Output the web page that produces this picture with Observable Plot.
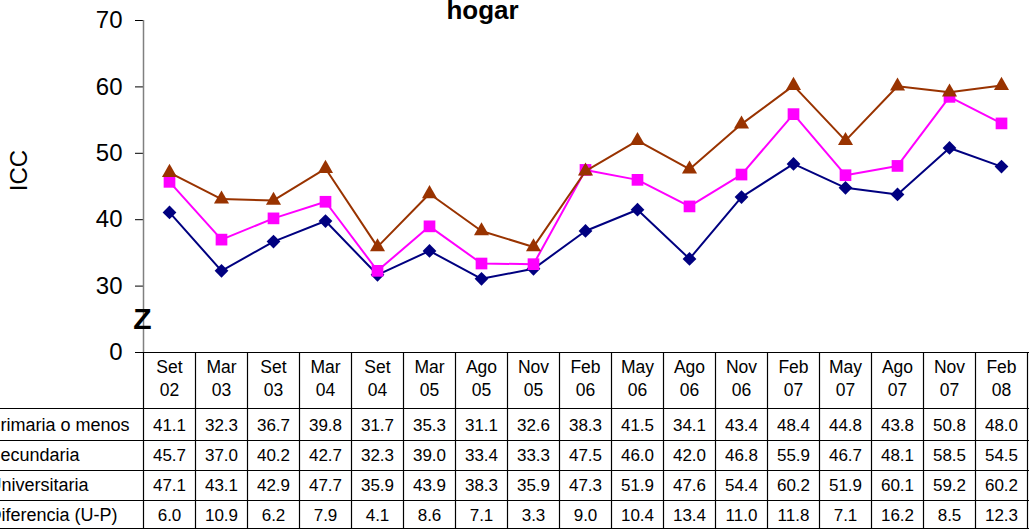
<!DOCTYPE html>
<html>
<head>
<meta charset="utf-8">
<script src="https://cdn.jsdelivr.net/npm/d3@7"></script>
<script src="https://cdn.jsdelivr.net/npm/@observablehq/plot@0.6"></script>
<style>
  html, body { margin: 0; padding: 0; background: #fff; overflow: hidden; }
</style>
</head>
<body>
<div id="chart"></div>
<script>
const months = ["Set","Mar","Set","Mar","Set","Mar","Ago","Nov","Feb","May","Ago","Nov","Feb","May","Ago","Nov","Feb"];
const years  = ["02","03","03","04","04","05","05","05","06","06","06","06","07","07","07","07","08"];
const categories = months.map((m, i) => m + " " + years[i]);

const primaria      = [41.1,32.3,36.7,39.8,31.7,35.3,31.1,32.6,38.3,41.5,34.1,43.4,48.4,44.8,43.8,50.8,48.0];
const secundaria    = [45.7,37.0,40.2,42.7,32.3,39.0,33.4,33.3,47.5,46.0,42.0,46.8,55.9,46.7,48.1,58.5,54.5];
const universitaria = [47.1,43.1,42.9,47.7,35.9,43.9,38.3,35.9,47.3,51.9,47.6,54.4,60.2,51.9,60.1,59.2,60.2];
const diferencia    = [6.0,10.9,6.2,7.9,4.1,8.6,7.1,3.3,9.0,10.4,13.4,11.0,11.8,7.1,16.2,8.5,12.3];

const rowLabels = ["Primaria o menos","Secundaria","Universitaria","Diferencia (U-P)"];
const yTicks = [20,30,40,50,60,70];
const yTickLabels = ["0","30","40","50","60","70"];

const seriesList = [
  {name: rowLabels[0], values: primaria,      color: "#000080", symbol: "diamond2", r: 6.2},
  {name: rowLabels[1], values: secundaria,    color: "#FF00FF", symbol: "square",   r: 6.6},
  {name: rowLabels[2], values: universitaria, color: "#993300", symbol: "triangle", r: 5.6}
];
const tableRows = [primaria, secundaria, universitaria, diferencia];
const rowDy = [73, 103, 133, 163];

const toData = vals => vals.map((v, i) => ({cat: categories[i], v}));

const marks = [];
// axis line
marks.push(Plot.ruleX([categories[0]], {dx: -26, stroke: "#808080", strokeWidth: 1.5}));
// series
for (const s of seriesList) {
  const d = toData(s.values);
  marks.push(Plot.line(d, {x: "cat", y: "v", stroke: s.color, strokeWidth: 2}));
  marks.push(Plot.dot(d, {x: "cat", y: "v", fill: s.color, symbol: s.symbol, r: s.r, stroke: "none"}));
}
// Z break mark
marks.push(Plot.text(["Z"], {frameAnchor: "bottom-left", dy: -33, dx: -1, fontSize: 30, fontWeight: "bold", textAnchor: "middle", lineAnchor: "middle", fill: "#000"}));
// ICC label
marks.push(Plot.text(["ICC"], {frameAnchor: "left", dx: -124, dy: -16, rotate: -90, fontSize: 24, textAnchor: "middle", lineAnchor: "middle", fill: "#000"}));
// title
marks.push(Plot.text(["hogar"], {frameAnchor: "top", dx: -103, dy: -10, fontSize: 26, fontWeight: "bold", textAnchor: "middle", lineAnchor: "middle", fill: "#000"}));

// table grid: vertical lines
marks.push(Plot.ruleX(categories, {x: d => d, dx: -26, insetTop: 332, insetBottom: -177, stroke: "#000", strokeWidth: 1.2}));
marks.push(Plot.ruleX([categories[categories.length - 1]], {dx: 26, insetTop: 332, insetBottom: -177, stroke: "#000", strokeWidth: 1.2}));
// horizontal lines
marks.push(Plot.ruleY([20], {stroke: "#000", strokeWidth: 1.2, insetRight: -2}));
for (const k of [56, 88, 118, 148, 176]) {
  marks.push(Plot.ruleY([20], {dy: k, insetLeft: -143, insetRight: -2, stroke: "#000", strokeWidth: 1.2}));
}
// header texts
marks.push(Plot.text(categories, {x: d => d, text: (d, i) => months[i], frameAnchor: "bottom", dy: 15, fontSize: 17.5, lineAnchor: "middle", fill: "#000"}));
marks.push(Plot.text(categories, {x: d => d, text: (d, i) => years[i], frameAnchor: "bottom", dy: 38, fontSize: 17.5, lineAnchor: "middle", fill: "#000"}));
// row labels
rowLabels.forEach((lab, j) => {
  marks.push(Plot.text([lab], {frameAnchor: "bottom-left", dx: -155, dy: rowDy[j], textAnchor: "start", lineAnchor: "middle", fontSize: 18, fill: "#000"}));
  marks.push(Plot.text(categories, {x: d => d, text: (d, i) => tableRows[j][i].toFixed(1), frameAnchor: "bottom", dy: rowDy[j], fontSize: 17, lineAnchor: "middle", fill: "#000"}));
});

const chart = Plot.plot({
  width: 1029,
  height: 529,
  marginLeft: 143,
  marginRight: 2,
  marginTop: 20,
  marginBottom: 177,
  style: {fontFamily: "'Liberation Sans', Arial, sans-serif", fontSize: "24px", color: "#000", background: "#fff", overflow: "visible"},
  x: {type: "point", domain: categories, padding: 0.5, axis: null},
  y: {domain: [20, 70], ticks: yTicks, tickFormat: d => yTickLabels[yTicks.indexOf(d)], tickSize: 8, tickPadding: 13, label: null},
  marks
});
document.getElementById("chart").appendChild(chart);
</script>
</body>
</html>
